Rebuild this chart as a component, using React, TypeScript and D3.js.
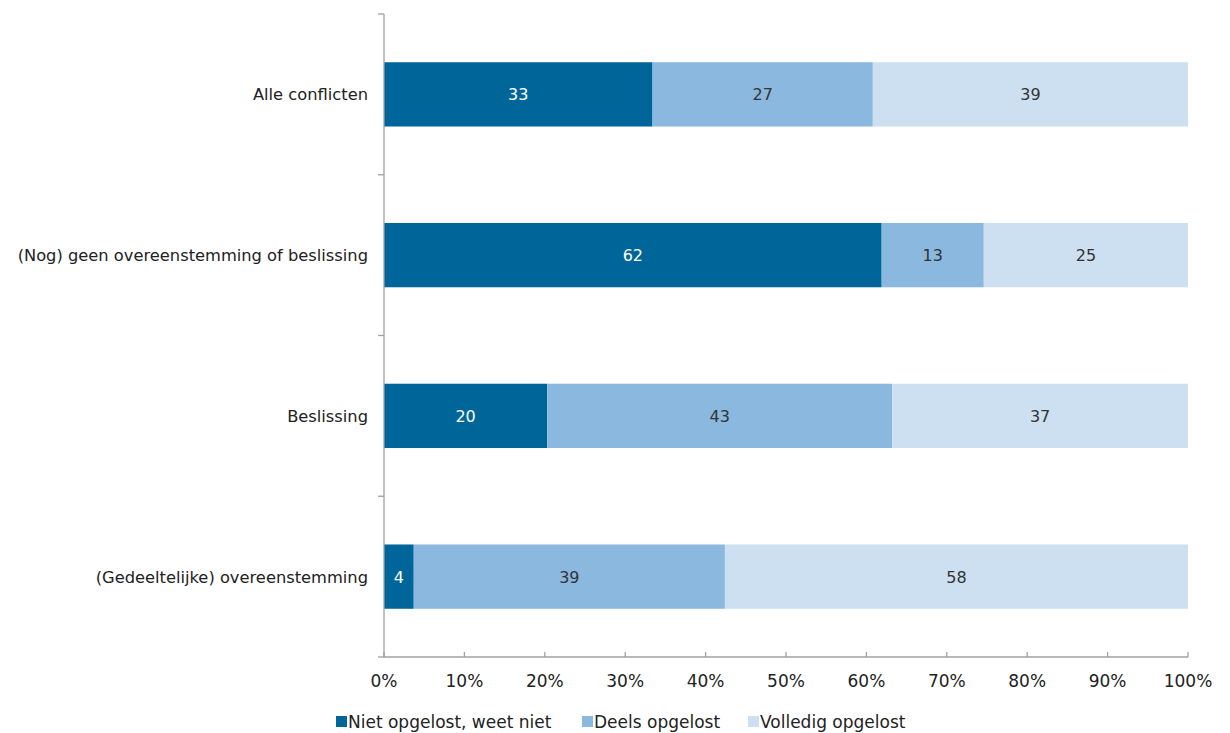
import React from "react";
import * as d3 from "d3";

const categories = [
  "Alle conflicten",
  "(Nog) geen overeenstemming of beslissing",
  "Beslissing",
  "(Gedeeltelijke) overeenstemming",
];
const seriesNames = ["Niet opgelost, weet niet", "Deels opgelost", "Volledig opgelost"];
const nietOpgelost = [33.4, 61.9, 20.3, 3.7];
const deelsOpgelost = [27.4, 12.7, 42.9, 38.7];
const volledigOpgelost = [39.2, 25.4, 36.8, 57.6];
const labelNiet = [33, 62, 20, 4];
const labelDeels = [27, 13, 43, 39];
const labelVolledig = [39, 25, 37, 58];
const xTicks = [0, 10, 20, 30, 40, 50, 60, 70, 80, 90, 100];

const colors = ["#006699", "#8ab8de", "#cce0f1"];
const textColors = ["#ffffff", "#333333", "#333333"];
const FONT = "Verdana, 'DejaVu Sans', sans-serif";

export default function App() {
  const W = 1230, H = 733;
  const x0 = 384, x1 = 1188, yTop = 14, yBot = 657;
  const x = d3.scaleLinear().domain([0, 100]).range([x0, x1]);
  const y = d3.scaleBand<string>().domain(categories).range([yTop, yBot]).paddingInner(0.6).paddingOuter(0.3);
  const series = [nietOpgelost, deelsOpgelost, volledigOpgelost];
  const labels = [labelNiet, labelDeels, labelVolledig];
  const step = (yBot - yTop) / categories.length;
  const legendX = [336, 582, 748];

  return (
    <svg width={W} height={H} style={{ position: "absolute", left: 0, top: 0, background: "#fff" }} fontFamily={FONT}>
      {categories.map((c, i) => {
        let acc = 0;
        return (
          <g key={c}>
            {series.map((s, k) => {
              const start = acc;
              acc += s[i];
              const xs = x(start), xe = x(acc);
              return (
                <g key={k}>
                  <rect x={xs} y={y(c)} width={xe - xs} height={y.bandwidth()} fill={colors[k]} />
                  <text x={(xs + xe) / 2} y={y(c)! + y.bandwidth() / 2 + 6} textAnchor="middle" fontSize={16} fill={textColors[k]}>
                    {labels[k][i]}
                  </text>
                </g>
              );
            })}
            <text x={368} y={y(c)! + y.bandwidth() / 2 + 6} textAnchor="end" fontSize={16.3} fill="#222">
              {c}
            </text>
          </g>
        );
      })}
      {/* y axis */}
      <line x1={x0} x2={x0} y1={yTop} y2={yBot} stroke="#a0a0a0" strokeWidth={1.3} />
      {d3.range(categories.length + 1).map((i) => (
        <line key={i} x1={x0 - 6} x2={x0} y1={yTop + i * step} y2={yTop + i * step} stroke="#a0a0a0" strokeWidth={1.3} />
      ))}
      {/* x axis */}
      <line x1={x0} x2={x1} y1={yBot} y2={yBot} stroke="#a0a0a0" strokeWidth={1.3} />
      {xTicks.map((t) => (
        <g key={t}>
          <line x1={x(t)} x2={x(t)} y1={yBot} y2={yBot - 5} stroke="#a0a0a0" strokeWidth={1.3} />
          <text x={x(t)} y={687} textAnchor="middle" fontSize={17} fill="#222">
            {t}%
          </text>
        </g>
      ))}
      {/* legend */}
      {seriesNames.map((n, k) => (
        <g key={n}>
          <rect x={legendX[k]} y={716} width={11} height={11} fill={colors[k]} />
          <text x={legendX[k] + 12} y={728} fontSize={17} fill="#222">
            {n}
          </text>
        </g>
      ))}
    </svg>
  );
}
